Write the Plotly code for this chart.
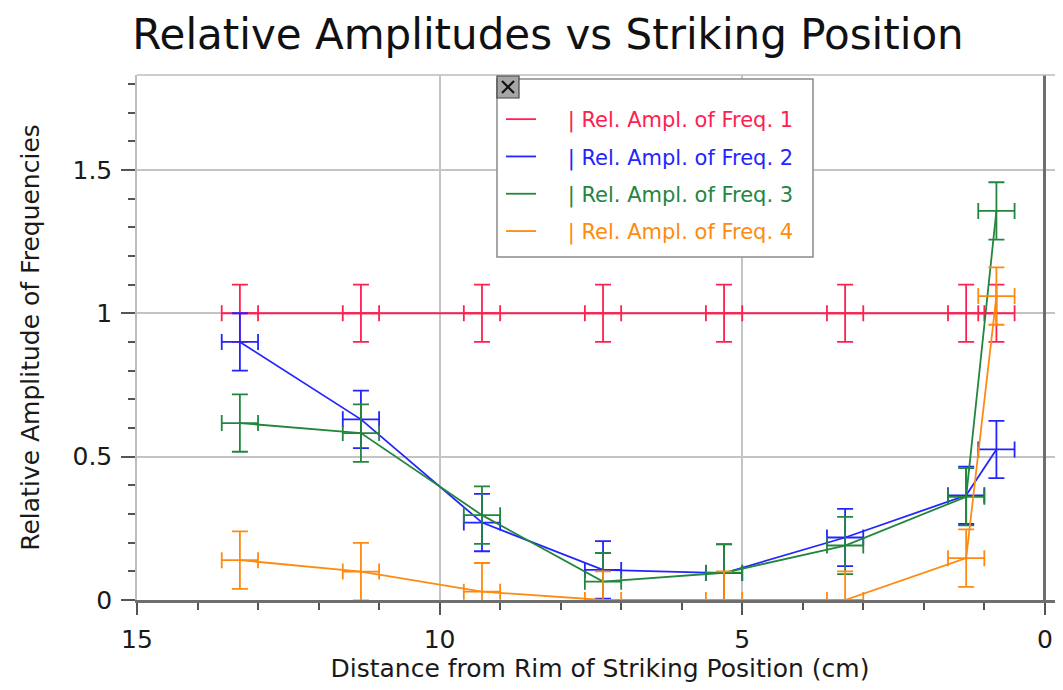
import plotly.graph_objects as go

# ---- data ----
distance_cm = [13.3, 11.3, 9.3, 7.3, 5.3, 3.3, 1.3, 0.8]
freq1 = [1.0, 1.0, 1.0, 1.0, 1.0, 1.0, 1.0, 1.0]
freq2 = [0.90, 0.63, 0.27, 0.105, 0.094, 0.218, 0.365, 0.525]
freq3 = [0.617, 0.582, 0.296, 0.064, 0.095, 0.19, 0.36, 1.357]
freq4 = [0.139, 0.099, 0.029, 0.0, 0.0, 0.0, 0.146, 1.06]
x_err = 0.3
y_err = 0.1
series_names = ["Rel. Ampl. of Freq. 1", "Rel. Ampl. of Freq. 2",
                "Rel. Ampl. of Freq. 3", "Rel. Ampl. of Freq. 4"]
colors = ["#FF2050", "#2424FF", "#23863F", "#FF8A10"]

# page has an 8px body margin; figure sized so the plot lands where the reference has it
OFF = 8
W, H = 1063 - OFF, 690 - OFF
L, R, T, B = 137 - OFF, 0, 75 - OFF, 90
FONT = "DejaVu Sans"

def px_x(px):  # page pixel -> paper x
    return (px - OFF - L) / (W - L - R)

def px_y(py):  # page pixel -> paper y
    return (H - B - (py - OFF)) / (H - T - B)

fig = go.Figure()
for vals, name, col in zip([freq1, freq2, freq3, freq4], series_names, colors):
    fig.add_trace(go.Scatter(
        x=distance_cm, y=vals, mode="lines", showlegend=False,
        line=dict(color=col, width=1.8),
        error_x=dict(type="constant", value=x_err, color=col, thickness=1.8, width=8),
        error_y=dict(type="constant", value=y_err, color=col, thickness=1.8, width=8),
        name=name,
    ))
# legend entries (line samples only)
for name, col in zip(series_names, colors):
    fig.add_trace(go.Scatter(
        x=[None], y=[None], mode="lines", legendgroup=name,
        line=dict(color=col, width=1.8),
        name='<span style="color:%s">\u00a0\u00a0\u00a0\u00a0| %s</span>' % (col, name),
    ))

fig.update_layout(
    width=W, height=H,
    margin=dict(l=L, r=R, t=T, b=B),
    paper_bgcolor="white", plot_bgcolor="white",
    font=dict(family=FONT, color="#1a1a1a"),
    title=dict(text="Relative Amplitudes vs Striking Position",
               font=dict(size=42, family=FONT, color="#111"),
               x=(548 - OFF) / W, xanchor="center", xref="container",
               y=1 - (34 - OFF) / H, yanchor="middle", yref="container"),
    legend=dict(x=px_x(501), y=px_y(99), xanchor="left", yanchor="top",
                bgcolor="rgba(0,0,0,0)", borderwidth=0,
                font=dict(size=21, family=FONT), tracegroupgap=7,
                itemwidth=30),
    showlegend=True,
)

fig.update_xaxes(
    range=[15, -0.30], autorange=False,
    dtick=5, tick0=0, ticks="outside", ticklen=12, tickwidth=1.5, tickcolor="#555",
    minor=dict(dtick=1, ticks="outside", ticklen=7, tickwidth=1.5, tickcolor="#555", showgrid=False),
    showgrid=True, gridcolor="#c4c4c4", gridwidth=1.5,
    zeroline=True, zerolinecolor="#6e6e6e", zerolinewidth=3,
    showline=True, linecolor="#6e6e6e", linewidth=3,
    tickfont=dict(size=25, family=FONT, color="#1a1a1a"),
    ticklabelstandoff=3,
    title=dict(text="Distance from Rim of Striking Position (cm)",
               font=dict(size=25, family=FONT, color="#1a1a1a"), standoff=6),
)
fig.update_yaxes(
    range=[0, 1.831], autorange=False,
    dtick=0.5, tick0=0, ticks="outside", ticklen=14, tickwidth=1.5, tickcolor="#555",
    minor=dict(dtick=0.1, ticks="outside", ticklen=7, tickwidth=1.5, tickcolor="#555", showgrid=False),
    showgrid=True, gridcolor="#c4c4c4", gridwidth=1.5,
    zeroline=True, zerolinecolor="#6e6e6e", zerolinewidth=3,
    showline=True, linecolor="#bdbdbd", linewidth=1.5,
    tickfont=dict(size=25, family=FONT, color="#1a1a1a"),
    ticklabelstandoff=4,
    title=dict(text="Relative Amplitude of Frequencies",
               font=dict(size=25, family=FONT, color="#1a1a1a"), standoff=26),
)

# top border of plot frame
fig.add_shape(type="line", xref="paper", yref="paper", x0=0, x1=1, y0=1, y1=1,
              line=dict(color="#bdbdbd", width=1.5))
# legend box
fig.add_shape(type="rect", xref="paper", yref="paper",
              x0=px_x(497), x1=px_x(813), y0=px_y(257), y1=px_y(79),
              fillcolor="white", line=dict(color="#8a8a8a", width=1.5), layer="above")
# legend close button
fig.add_shape(type="rect", xref="paper", yref="paper",
              x0=px_x(497), x1=px_x(519), y0=px_y(98), y1=px_y(76),
              fillcolor="#a6a6a6", line=dict(color="#444", width=1.2), layer="above")
fig.add_shape(type="line", xref="paper", yref="paper",
              x0=px_x(502), x1=px_x(514), y0=px_y(93), y1=px_y(81),
              line=dict(color="#111", width=2.2), layer="above")
fig.add_shape(type="line", xref="paper", yref="paper",
              x0=px_x(502), x1=px_x(514), y0=px_y(81), y1=px_y(93),
              line=dict(color="#111", width=2.2), layer="above")

fig.write_html("out.html")
